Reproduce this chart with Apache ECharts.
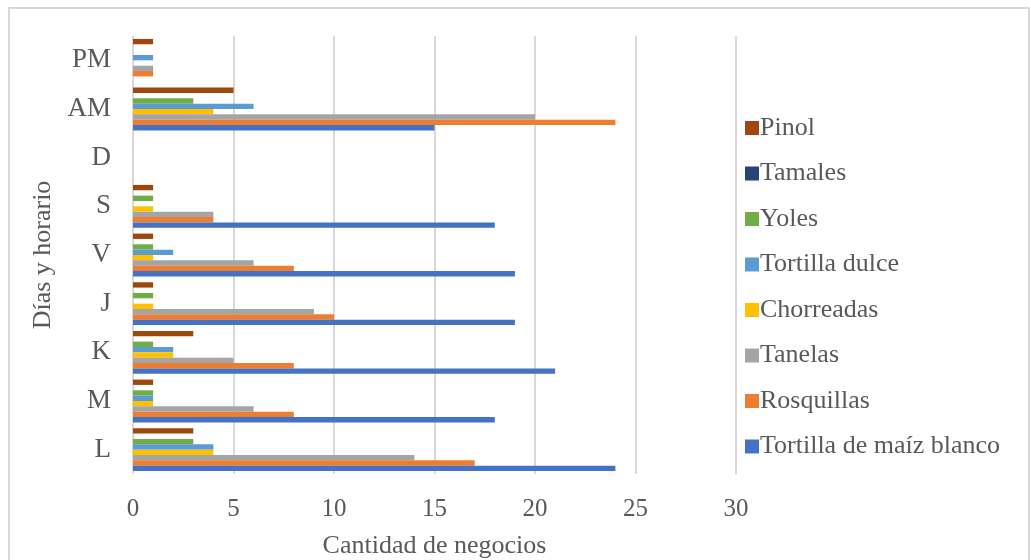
<!DOCTYPE html>
<html>
<head>
<meta charset="utf-8">
<script src="https://cdn.jsdelivr.net/npm/echarts@6/dist/echarts.min.js"></script>
<style>
  html, body { margin: 0; padding: 0; background: #fff; }
  #frame {
    position: absolute; left: 8px; top: 7px; width: 1022px; height: 560px;
    border-left: 2px solid #d9d9d9; border-top: 2px solid #d9d9d9; border-right: 2px solid #d9d9d9;
    box-sizing: border-box;
  }
  #chart { position: absolute; left: 0; top: 0; width: 1031px; height: 560px; }
</style>
</head>
<body>
<div id="frame"></div>
<div id="chart"></div>
<script>
// Days and time slots (bottom to top on the axis)
const categories = ['L', 'M', 'K', 'J', 'V', 'S', 'D', 'AM', 'PM'];

// Number of businesses per product
const tortillaMaiz  = [24, 18, 21, 19, 19, 18, 0, 15, 0];
const rosquillas    = [17, 8, 8, 10, 8, 4, 0, 24, 1];
const tanelas       = [14, 6, 5, 9, 6, 4, 0, 20, 1];
const chorreadas    = [4, 1, 2, 1, 1, 1, 0, 4, 0];
const tortillaDulce = [4, 1, 2, 0, 2, 0, 0, 6, 1];
const yoles         = [3, 1, 1, 1, 1, 1, 0, 3, 0];
const tamales       = [0, 0, 0, 0, 0, 0, 0, 0, 0];
const pinol         = [3, 1, 3, 1, 1, 1, 0, 5, 1];

const xTicks = [0, 5, 10, 15, 20, 25, 30];

// Listed top to bottom within each group (ECharts places the first series on top)
const seriesDefs = [
  { name: 'Pinol', data: pinol, color: '#9E480E' },
  { name: 'Tamales', data: tamales, color: '#264478' },
  { name: 'Yoles', data: yoles, color: '#70AD47' },
  { name: 'Tortilla dulce', data: tortillaDulce, color: '#5B9BD5' },
  { name: 'Chorreadas', data: chorreadas, color: '#FFC000' },
  { name: 'Tanelas', data: tanelas, color: '#A5A5A5' },
  { name: 'Rosquillas', data: rosquillas, color: '#ED7D31' },
  { name: 'Tortilla de maíz blanco', data: tortillaMaiz, color: '#4472C4' }
];

const font = 'Liberation Serif, Times New Roman, serif';
const textColor = '#595959';

const chart = echarts.init(document.getElementById('chart'), null, { renderer: 'canvas' });
chart.setOption({
  animation: false,
  textStyle: { fontFamily: font },
  grid: { left: 133, right: 295, top: 36, bottom: 86, containLabel: false, outerBoundsMode: 'none' },
  legend: {
    orient: 'vertical',
    left: 740,
    top: 110,
    itemGap: 19.5,
    itemWidth: 14,
    itemHeight: 14,
    icon: 'rect',
    data: seriesDefs.map(s => s.name),
    textStyle: { fontFamily: font, fontSize: 26, color: textColor, padding: [0, 0, 0, -4] }
  },
  xAxis: {
    type: 'value',
    min: xTicks[0],
    max: xTicks[xTicks.length - 1],
    interval: 5,
    name: 'Cantidad de negocios',
    nameLocation: 'middle',
    nameGap: 59,
    nameTextStyle: { fontFamily: font, fontSize: 26, color: textColor },
    axisLine: { show: false },
    axisTick: { show: false },
    axisLabel: { fontFamily: font, fontSize: 25, color: textColor, margin: 23 },
    splitLine: { show: true, lineStyle: { color: '#d9d9d9', width: 2 } }
  },
  yAxis: {
    type: 'category',
    data: categories,
    name: 'Días y horario',
    nameLocation: 'middle',
    nameGap: 66,
    nameRotate: 90,
    nameTextStyle: { fontFamily: font, fontSize: 26, color: textColor },
    axisLine: { show: false },
    axisTick: { show: false },
    axisLabel: { fontFamily: font, fontSize: 27, color: textColor, margin: 22 },
    splitLine: { show: false }
  },
  series: seriesDefs.map(s => ({
    name: s.name,
    type: 'bar',
    data: s.data,
    itemStyle: { color: s.color },
    barGap: '0%',
    barCategoryGap: '12%'
  }))
});
</script>
</body>
</html>
